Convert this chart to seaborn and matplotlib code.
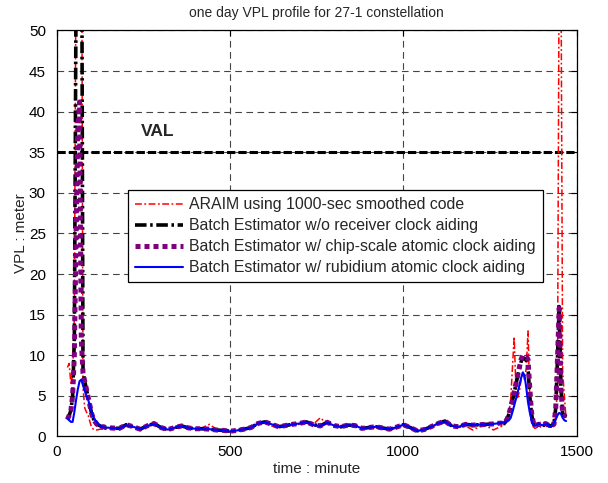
import numpy as np
import pandas as pd
import matplotlib
matplotlib.use("Agg")
import matplotlib.pyplot as plt
import seaborn as sns

# time axis (minutes): fine steps around the VPL spikes, coarser in the quiet middle part
minutes = list(range(30, 145, 5)) + list(range(160, 1281, 20)) + list(range(1290, 1471, 5))

araim_vpl = [
    # 30 .. 140
    8.5, 9.0, 6.5, 7.5, 15.0, 60.0, 80.0, 80.0, 80.0, 6.0, 3.5, 3.0,
    2.6, 1.8, 1.1, 0.9, 0.8, 0.8, 0.85, 0.9, 0.9, 0.9, 0.95,
    # 160 .. 1280
    0.85, 0.9, 1.3, 1.1, 0.75, 1.2, 1.5, 1.0, 0.7, 1.0, 1.2, 1.0,
    1.0, 1.1, 1.5, 0.9, 0.7, 0.55, 0.7, 0.9, 1.0, 1.5, 1.8, 1.3,
    1.1, 1.3, 1.4, 1.5, 1.7, 1.5, 2.3, 1.6, 1.3, 1.1, 1.3, 1.4,
    1.0, 1.0, 1.1, 1.0, 0.85, 1.0, 1.3, 1.2, 0.65, 0.8, 1.1, 1.5,
    1.7, 1.2, 1.1, 1.3, 0.8, 1.2, 1.3, 0.8, 1.2,
    # 1290 .. 1470
    1.3, 1.6, 2.0, 3.0, 4.5, 8.5, 12.3, 6.0, 4.8, 5.5, 7.0, 7.8,
    7.0, 8.5, 13.0, 5.0, 2.0, 1.2, 1.0, 1.1, 1.3, 1.2, 1.1, 1.2,
    1.4, 1.5, 1.2, 1.1, 1.3, 1.5, 2.5, 6.0, 60.0, 60.0, 8.0, 5.0, 2.0,
]

batch_no_clock = [
    # 30 .. 140
    2.1, 2.6, 3.2, 5.0, 12.0, 55.0, 80.0, 80.0, 80.0, 8.0, 6.8, 5.8,
    4.8, 3.8, 2.8, 2.2, 1.8, 1.5, 1.4, 1.3, 1.2, 1.2, 1.1,
    # 160 .. 1280
    1.05, 1.0, 1.45, 1.2, 0.9, 1.3, 1.6, 1.1, 0.85, 1.1, 1.3, 1.05,
    0.95, 0.95, 0.9, 0.8, 0.75, 0.65, 0.75, 0.9, 1.1, 1.6, 1.8, 1.5,
    1.2, 1.35, 1.5, 1.6, 1.8, 1.45, 1.3, 1.75, 1.35, 1.2, 1.4, 1.35,
    1.0, 1.1, 1.2, 1.05, 0.9, 1.15, 1.45, 1.1, 0.7, 0.85, 1.2, 1.6,
    1.9, 1.3, 1.2, 1.5, 1.4, 1.45, 1.5, 1.55, 1.65,
    # 1290 .. 1470
    1.6, 1.8, 2.2, 2.8, 3.5, 4.4, 5.4, 6.4, 7.4, 8.3, 9.2, 9.7,
    9.6, 9.4, 8.5, 5.0, 2.8, 1.7, 1.3, 1.4, 1.5, 1.5, 1.5, 1.4,
    1.6, 1.5, 1.3, 1.3, 1.4, 1.6, 3.5, 9.5, 16.0, 6.0, 2.8, 2.6, 2.4,
]

batch_csac = [
    # 30 .. 140
    2.1, 2.6, 3.2, 5.0, 10.0, 25.0, 38.0, 41.2, 12.0, 7.8, 6.8, 5.8,
    4.8, 3.8, 2.8, 2.2, 1.8, 1.5, 1.4, 1.3, 1.2, 1.2, 1.1,
    # 160 .. 1280
    1.05, 1.0, 1.45, 1.2, 0.9, 1.3, 1.6, 1.1, 0.85, 1.1, 1.3, 1.05,
    0.95, 0.95, 0.9, 0.8, 0.75, 0.65, 0.75, 0.9, 1.1, 1.6, 1.8, 1.5,
    1.2, 1.35, 1.5, 1.6, 1.8, 1.45, 1.3, 1.75, 1.35, 1.2, 1.4, 1.35,
    1.0, 1.1, 1.2, 1.05, 0.9, 1.15, 1.45, 1.1, 0.7, 0.85, 1.2, 1.6,
    1.9, 1.3, 1.2, 1.5, 1.4, 1.45, 1.5, 1.55, 1.65,
    # 1290 .. 1470
    1.6, 1.8, 2.2, 2.8, 3.6, 4.5, 5.5, 6.5, 7.5, 8.5, 9.5, 10.0,
    9.8, 9.8, 9.5, 6.0, 3.0, 1.8, 1.3, 1.4, 1.5, 1.5, 1.5, 1.4,
    1.6, 1.5, 1.3, 1.3, 1.4, 1.5, 3.5, 9.5, 15.8, 6.0, 2.8, 2.6, 2.5,
]

batch_rubidium = [
    # 30 .. 140
    2.2, 2.0, 1.8, 1.8, 3.0, 4.5, 5.8, 6.8, 7.0, 6.3, 5.6, 5.0,
    4.5, 3.8, 3.0, 2.4, 2.0, 1.8, 1.5, 1.3, 1.2, 1.1, 1.1,
    # 160 .. 1280
    1.05, 1.0, 1.4, 1.2, 0.9, 1.3, 1.55, 1.1, 0.85, 1.1, 1.3, 1.05,
    0.95, 0.9, 0.9, 0.8, 0.75, 0.6, 0.75, 0.9, 1.1, 1.6, 1.75, 1.5,
    1.2, 1.35, 1.5, 1.6, 1.8, 1.4, 1.3, 1.7, 1.35, 1.2, 1.4, 1.35,
    1.0, 1.1, 1.2, 1.05, 0.9, 1.15, 1.45, 1.1, 0.7, 0.85, 1.2, 1.6,
    1.85, 1.3, 1.2, 1.5, 1.4, 1.45, 1.5, 1.55, 1.65,
    # 1290 .. 1470
    1.7, 1.8, 1.9, 2.0, 2.3, 3.0, 3.8, 4.6, 5.4, 6.3, 7.2, 7.9,
    7.5, 6.0, 4.2, 3.0, 2.0, 1.4, 1.3, 1.4, 1.6, 1.5, 1.4, 1.4,
    1.5, 1.6, 1.3, 1.2, 1.4, 1.7, 2.1, 2.6, 2.9, 2.8, 2.3, 2.0, 1.9,
]

series_labels = [
    "ARAIM using 1000-sec smoothed code",
    "Batch Estimator w/o receiver clock aiding",
    "Batch Estimator w/ chip-scale atomic clock aiding",
    "Batch Estimator w/ rubidium atomic clock aiding",
]
val_level = 35
x_ticks = [0, 500, 1000, 1500]
y_ticks = list(range(0, 51, 5))

sns.set_theme(style="white")
plt.rcParams["font.family"] = ["Liberation Sans", "DejaVu Sans"]

fig = plt.figure(figsize=(6.08, 4.83), dpi=100)
ax = fig.add_axes([0.0938, 0.0963, 0.8544, 0.8406])

styles = [
    dict(color="red", linewidth=1.1, linestyle=(0, (4.5, 1.6, 1.2, 1.6))),
    dict(color="black", linewidth=2.6, linestyle=(0, (3.2, 1.0, 0.7, 1.0)), dash_capstyle="butt"),
    dict(color="#800080", linewidth=3.6, linestyle=(0, (1.0, 0.8)), dash_capstyle="butt"),
    dict(color="blue", linewidth=1.5, linestyle="-"),
]
values = [araim_vpl, batch_no_clock, batch_csac, batch_rubidium]

for vals, lab, st in zip(values, series_labels, styles):
    df = pd.DataFrame({"minute": minutes, "vpl": vals})
    sns.lineplot(data=df, x="minute", y="vpl", ax=ax, label=lab,
                 estimator=None, sort=False, **st)

# vertical alert limit
ax.axhline(val_level, color="black", linewidth=2.2,
           linestyle=(0, (2.7, 1.0)), dash_capstyle="butt", zorder=1.5)
ax.text(243, 37.6, "VAL", fontsize=12.5, fontweight="bold", va="center", ha="left")

ax.set_xlim(0, 1500)
ax.set_ylim(0, 50)
ax.set_xticks(x_ticks)
ax.set_yticks(y_ticks)
ax.grid(True, color="#444444", linewidth=0.8, linestyle=(0, (6, 4)))
ax.set_axisbelow(True)
ax.tick_params(direction="in", length=4, width=0.8, colors="black",
               top=True, right=True, labelsize=11)
ax.tick_params(axis="y", pad=8)
ax.tick_params(axis="x", pad=6)
for sp in ax.spines.values():
    sp.set_color("black")
    sp.set_linewidth(0.9)

ax.set_xlabel("time : minute", fontsize=11, labelpad=2)
ax.set_ylabel("VPL : meter", fontsize=11, labelpad=0.5)
ax.set_title("one day VPL profile for 27-1 constellation", fontsize=10, pad=10)

leg = ax.legend(loc="upper left", bbox_to_anchor=(0.1367, 0.607),
                borderaxespad=0, fontsize=11.4, handlelength=3.05,
                handletextpad=0.35, labelspacing=0.38, borderpad=0.45,
                frameon=True, fancybox=False, framealpha=1)
leg.get_frame().set_edgecolor("black")
leg.get_frame().set_linewidth(0.9)

fig.savefig("out.png", dpi=100)
